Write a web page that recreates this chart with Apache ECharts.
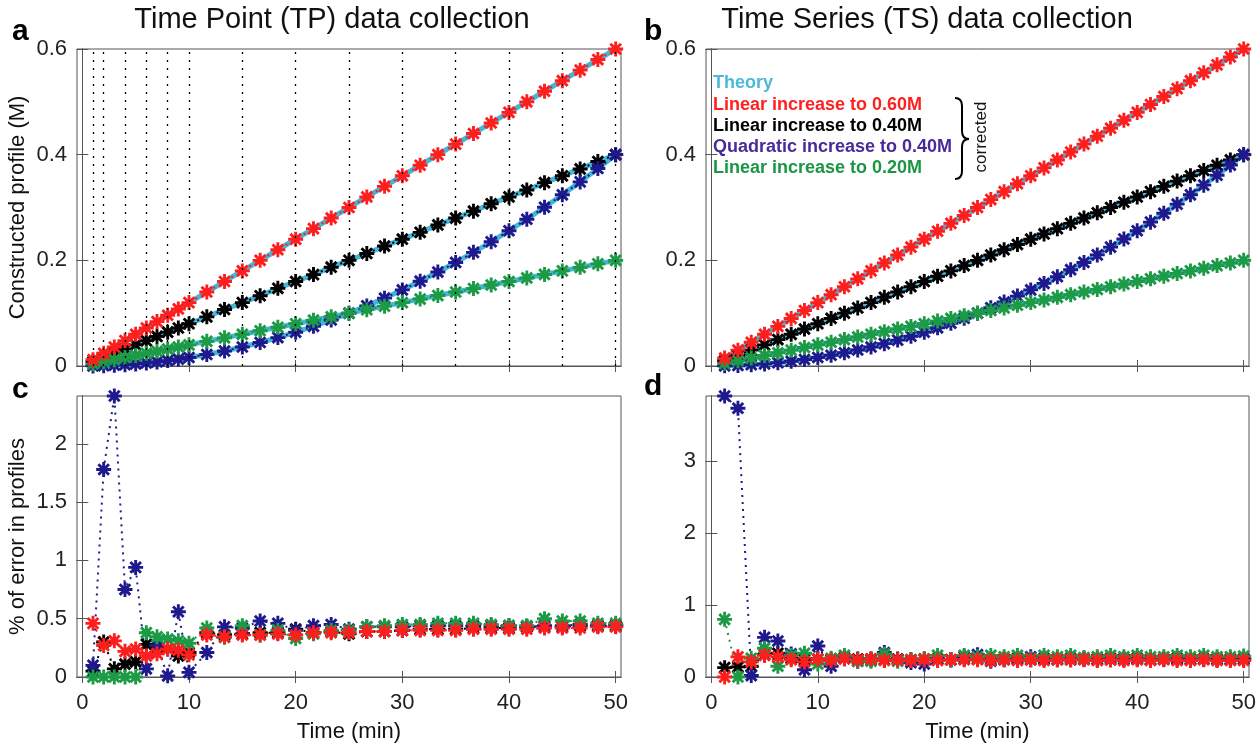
<!DOCTYPE html>
<html lang="en">
<head>
  <meta charset="UTF-8">
  <title>TP vs TS data collection</title>
  <style>
    html,
    body,
    #main {
      margin: 0;
      padding: 0;
      background: #fff;
    }

    #main {
      width: 1260px;
      height: 746px;
    }
  </style>
</head>
<body>
  <div id="main"></div>
  <script src="https://cdn.jsdelivr.net/npm/echarts@6/dist/echarts.min.js"></script>
  <script>
    // sampling times (min)
    const tpTime = [1, 2, 3, 4, 5, 6, 7, 8, 9, 10, 11.67, 13.33, 15, 16.67, 18.33, 20, 21.67, 23.33, 25, 26.67,
      28.33, 30, 31.67, 33.33, 35, 36.67, 38.33, 40, 41.67, 43.33, 45, 46.67, 48.33, 50];
    const tsTime = [1.25, 2.5, 3.75, 5, 6.25, 7.5, 8.75, 10, 11.25, 12.5, 13.75, 15, 16.25, 17.5, 18.75, 20,
      21.25, 22.5, 23.75, 25, 26.25, 27.5, 28.75, 30, 31.25, 32.5, 33.75, 35, 36.25, 37.5, 38.75, 40,
      41.25, 42.5, 43.75, 45, 46.25, 47.5, 48.75, 50];
    const tpLines = [1, 2, 4, 6, 8, 10, 15, 20, 25, 30, 35, 40, 45, 50];
    const xTicks = [0, 10, 20, 30, 40, 50];
    const yTicksProfile = [0, 0.2, 0.4, 0.6];
    const yTicksErrTP = [0, 0.5, 1, 1.5, 2];
    const yTicksErrTS = [0, 1, 2, 3];

    // a: constructed profiles, TP
    const tpRed = [0.012, 0.024, 0.036, 0.048, 0.060, 0.072, 0.084, 0.096, 0.108, 0.120, 0.140, 0.160, 0.180,
      0.200, 0.220, 0.240, 0.260, 0.280, 0.300, 0.320, 0.340, 0.360, 0.380, 0.400, 0.420, 0.440, 0.460,
      0.480, 0.500, 0.520, 0.540, 0.560, 0.580, 0.600];
    const tpBlack = [0.008, 0.016, 0.024, 0.032, 0.040, 0.048, 0.056, 0.064, 0.072, 0.080, 0.093, 0.107, 0.120,
      0.133, 0.147, 0.160, 0.173, 0.187, 0.200, 0.213, 0.227, 0.240, 0.253, 0.267, 0.280, 0.293, 0.307,
      0.320, 0.333, 0.347, 0.360, 0.373, 0.387, 0.400];
    const tpQuad = [0.0002, 0.0006, 0.0014, 0.0026, 0.004, 0.0058, 0.0078, 0.0102, 0.013, 0.016, 0.0218, 0.0284,
      0.036, 0.0444, 0.0538, 0.064, 0.0751, 0.0871, 0.100, 0.1138, 0.1284, 0.144, 0.1605, 0.1778, 0.196,
      0.2151, 0.2351, 0.256, 0.2778, 0.3004, 0.324, 0.3485, 0.3738, 0.400];
    const tpGreen = [0.004, 0.008, 0.012, 0.016, 0.020, 0.024, 0.028, 0.032, 0.036, 0.040, 0.0467, 0.0533, 0.060,
      0.0667, 0.0733, 0.080, 0.0867, 0.0933, 0.100, 0.1067, 0.1133, 0.120, 0.1267, 0.1333, 0.140, 0.1467,
      0.1533, 0.160, 0.1667, 0.1733, 0.180, 0.1867, 0.1933, 0.200];

    // b: constructed profiles, TS
    const tsRed = [0.015, 0.030, 0.045, 0.060, 0.075, 0.090, 0.105, 0.120, 0.135, 0.150, 0.165, 0.180, 0.195,
      0.210, 0.225, 0.240, 0.255, 0.270, 0.285, 0.300, 0.315, 0.330, 0.345, 0.360, 0.375, 0.390, 0.405,
      0.420, 0.435, 0.450, 0.465, 0.480, 0.495, 0.510, 0.525, 0.540, 0.555, 0.570, 0.585, 0.600];
    const tsBlack = [0.01, 0.02, 0.03, 0.04, 0.05, 0.06, 0.07, 0.08, 0.09, 0.10, 0.11, 0.12, 0.13, 0.14, 0.15,
      0.16, 0.17, 0.18, 0.19, 0.20, 0.21, 0.22, 0.23, 0.24, 0.25, 0.26, 0.27, 0.28, 0.29, 0.30, 0.31, 0.32,
      0.33, 0.34, 0.35, 0.36, 0.37, 0.38, 0.39, 0.40];
    const tsQuad = [0.0003, 0.001, 0.0023, 0.004, 0.0063, 0.009, 0.0123, 0.016, 0.0203, 0.025, 0.0303, 0.036,
      0.0423, 0.049, 0.0563, 0.064, 0.0723, 0.081, 0.0903, 0.100, 0.1103, 0.121, 0.1323, 0.144, 0.1563,
      0.169, 0.1823, 0.196, 0.2103, 0.225, 0.2403, 0.256, 0.2723, 0.289, 0.3063, 0.324, 0.3423, 0.361,
      0.3803, 0.400];
    const tsGreen = [0.005, 0.010, 0.015, 0.020, 0.025, 0.030, 0.035, 0.040, 0.045, 0.050, 0.055, 0.060, 0.065,
      0.070, 0.075, 0.080, 0.085, 0.090, 0.095, 0.100, 0.105, 0.110, 0.115, 0.120, 0.125, 0.130, 0.135,
      0.140, 0.145, 0.150, 0.155, 0.160, 0.165, 0.170, 0.175, 0.180, 0.185, 0.190, 0.195, 0.200];

    // c: % error, TP
    const errTpRed = [0.46, 0.27, 0.31, 0.22, 0.24, 0.18, 0.20, 0.24, 0.23, 0.19, 0.36, 0.345, 0.36, 0.36, 0.37,
      0.36, 0.38, 0.38, 0.38, 0.39, 0.39, 0.40, 0.40, 0.40, 0.40, 0.41, 0.41, 0.41, 0.41, 0.42, 0.42, 0.42,
      0.43, 0.43];
    const errTpBlack = [0.05, 0.30, 0.07, 0.11, 0.13, 0.28, 0.25, 0.24, 0.18, 0.21, 0.38, 0.36, 0.37, 0.38, 0.38,
      0.41, 0.38, 0.39, 0.37, 0.39, 0.39, 0.40, 0.41, 0.41, 0.41, 0.42, 0.42, 0.42, 0.43, 0.43, 0.43, 0.44,
      0.44, 0.44];
    const errTpQuad = [0.10, 1.78, 2.41, 0.75, 0.94, 0.07, 0.27, 0.01, 0.56, 0.04, 0.21, 0.43, 0.42, 0.48, 0.46,
      0.40, 0.44, 0.45, 0.41, 0.43, 0.43, 0.43, 0.44, 0.44, 0.44, 0.44, 0.44, 0.44, 0.43, 0.44, 0.44, 0.45,
      0.44, 0.44];
    const errTpGreen = [0, 0, 0, 0, 0, 0.38, 0.345, 0.325, 0.31, 0.29, 0.42, 0.34, 0.44, 0.36, 0.40, 0.33, 0.37,
      0.40, 0.40, 0.43, 0.44, 0.45, 0.45, 0.46, 0.46, 0.46, 0.45, 0.44, 0.44, 0.50, 0.48, 0.48, 0.46, 0.46];

    // d: % error, TS
    const errTsRed = [0.00, 0.28, 0.21, 0.30, 0.28, 0.24, 0.21, 0.25, 0.23, 0.25, 0.24, 0.25, 0.23, 0.24, 0.23,
      0.24, 0.23, 0.24, 0.24, 0.24, 0.23, 0.24, 0.23, 0.24, 0.23, 0.24, 0.24, 0.24, 0.23, 0.24, 0.23, 0.24,
      0.23, 0.24, 0.23, 0.23, 0.24, 0.23, 0.23, 0.23];
    const errTsBlack = [0.13, 0.14, 0.15, 0.31, 0.33, 0.26, 0.24, 0.25, 0.24, 0.26, 0.25, 0.25, 0.24, 0.25, 0.24,
      0.25, 0.25, 0.24, 0.25, 0.25, 0.24, 0.25, 0.25, 0.24, 0.25, 0.25, 0.24, 0.25, 0.25, 0.24, 0.25, 0.25,
      0.24, 0.25, 0.25, 0.24, 0.25, 0.25, 0.24, 0.25];
    const errTsQuad = [3.90, 3.73, 0.02, 0.55, 0.50, 0.32, 0.10, 0.43, 0.15, 0.27, 0.22, 0.24, 0.34, 0.24, 0.20,
      0.18, 0.25, 0.24, 0.28, 0.31, 0.22, 0.24, 0.26, 0.28, 0.26, 0.24, 0.26, 0.25, 0.24, 0.26, 0.25, 0.26,
      0.24, 0.25, 0.26, 0.25, 0.25, 0.24, 0.25, 0.25];
    const errTsGreen = [0.80, 0.00, 0.26, 0.40, 0.15, 0.30, 0.33, 0.18, 0.26, 0.30, 0.22, 0.22, 0.32, 0.22, 0.24,
      0.25, 0.30, 0.24, 0.30, 0.28, 0.30, 0.28, 0.30, 0.26, 0.30, 0.28, 0.30, 0.27, 0.28, 0.30, 0.28, 0.30,
      0.28, 0.28, 0.30, 0.28, 0.30, 0.28, 0.28, 0.29];

    const FONT = '"Liberation Sans", Arial, Helvetica, sans-serif';
    const C_THEORY = '#44B6D8';
    const C_RED = '#FF1E1E';
    const C_BLACK = '#000000';
    const C_QUAD = '#1E1A8E';
    const C_GREEN = '#1C9A46';
    const STAR = 'path://M10,0L10,20M0,10L20,10M2.93,2.93L17.07,17.07M2.93,17.07L17.07,2.93';

    const pair = (xs, ys) => xs.map((x, i) => [x, ys[i]]);

    const draw = () => {
      const myChart = echarts.init(document.getElementById('main'), null, { renderer: 'canvas' });

      const grids = [
        { left: 77, top: 49, width: 544, height: 317 },
        { left: 706, top: 49, width: 543, height: 317 },
        { left: 77, top: 396, width: 544, height: 281 },
        { left: 706, top: 396, width: 543, height: 281 },
      ].map(g => Object.assign({
        show: true,
        borderColor: '#555',
        borderWidth: 1,
        backgroundColor: '#fff',
        containLabel: false,
        outerBoundsMode: 'none'
      }, g));

      const axisLine = { show: true, lineStyle: { color: '#555', width: 1 } };
      const tick = (vals) => ({ show: true, inside: true, length: 6, customValues: vals, lineStyle: { color: '#555' } });

      const xAxes = [];
      const yAxes = [];
      const yRanges = [[0, 0.6, yTicksProfile], [0, 0.6, yTicksProfile], [0, 2.41, yTicksErrTP], [0, 3.9, yTicksErrTS]];
      for (let i = 0; i < 4; i++) {
        const bottomRow = i >= 2;
        xAxes.push({
          type: 'value', gridIndex: i, position: 'bottom', min: -0.5, max: 50.5,
          axisLine, axisTick: tick(xTicks), splitLine: { show: false },
          axisLabel: {
            show: bottomRow, customValues: xTicks, margin: 15,
            color: '#222', fontSize: 22, fontFamily: FONT
          },
          name: bottomRow ? 'Time (min)' : '', nameLocation: 'middle', nameGap: 44,
          nameTextStyle: { color: '#111', fontSize: 22, fontFamily: FONT }
        });
        xAxes.push({
          type: 'value', gridIndex: i, position: 'top', min: -0.5, max: 50.5,
          axisLine, axisTick: tick(xTicks), splitLine: { show: false }, axisLabel: { show: false }
        });
        const [lo, hi, vals] = yRanges[i];
        yAxes.push({
          type: 'value', gridIndex: i, position: 'left', min: lo, max: hi,
          axisLine, axisTick: tick(vals), splitLine: { show: false },
          axisLabel: {
            customValues: vals, margin: 10,
            color: '#222', fontSize: 22, fontFamily: FONT
          },
          name: i === 0 ? 'Constructed profile (M)' : (i === 2 ? '% of error in profiles' : ''),
          nameLocation: 'middle', nameGap: 48,
          nameTextStyle: { color: '#111', fontSize: 22, fontFamily: FONT }
        });
        yAxes.push({
          type: 'value', gridIndex: i, position: 'right', min: lo, max: hi,
          axisLine, axisTick: tick(vals), splitLine: { show: false }, axisLabel: { show: false }
        });
      }

      const theory = (g, xs, ys, extra) => Object.assign({
        type: 'line', xAxisIndex: g * 2, yAxisIndex: g * 2,
        data: pair(xs, ys), showSymbol: false, symbol: 'none',
        lineStyle: { color: C_THEORY, width: 5 }, silent: true, z: 2
      }, extra || {});

      const measured = (g, xs, ys, color) => ({
        type: 'line', xAxisIndex: g * 2, yAxisIndex: g * 2,
        data: pair(xs, ys), symbol: STAR, symbolSize: 15, showAllSymbol: true,
        lineStyle: { color: color, width: 2, type: [2, 5] },
        itemStyle: { color: color, borderColor: color, borderWidth: 2.9 },
        silent: true, z: 3
      });

      const tpMarks = {
        markLine: {
          silent: true, symbol: 'none', label: { show: false },
          lineStyle: { color: '#000', width: 1.3, type: [2, 6] },
          data: tpLines.map(t => ({ xAxis: t }))
        }
      };

      // drawing order: black, quadratic, green, red (last on top)
      const series = [
        theory(0, tpTime, tpGreen, tpMarks),
        theory(0, tpTime, tpQuad),
        theory(0, tpTime, tpBlack),
        theory(0, tpTime, tpRed),
        measured(0, tpTime, tpBlack, C_BLACK),
        measured(0, tpTime, tpQuad, C_QUAD),
        measured(0, tpTime, tpGreen, C_GREEN),
        measured(0, tpTime, tpRed, C_RED),

        theory(1, tsTime, tsGreen),
        theory(1, tsTime, tsQuad),
        theory(1, tsTime, tsBlack),
        theory(1, tsTime, tsRed),
        measured(1, tsTime, tsBlack, C_BLACK),
        measured(1, tsTime, tsQuad, C_QUAD),
        measured(1, tsTime, tsGreen, C_GREEN),
        measured(1, tsTime, tsRed, C_RED),

        measured(2, tpTime, errTpBlack, C_BLACK),
        measured(2, tpTime, errTpQuad, C_QUAD),
        measured(2, tpTime, errTpGreen, C_GREEN),
        measured(2, tpTime, errTpRed, C_RED),

        measured(3, tsTime, errTsBlack, C_BLACK),
        measured(3, tsTime, errTsQuad, C_QUAD),
        measured(3, tsTime, errTsGreen, C_GREEN),
        measured(3, tsTime, errTsRed, C_RED),
      ];

      const txt = (x, y, text, font, fill, extra) => Object.assign({
        type: 'text', x: x, y: y, silent: true, z: 10,
        style: {
          text: text, font: font, fill: fill,
          align: 'left', verticalAlign: 'middle', textAlign: 'left', textVerticalAlign: 'middle'
        }
      }, extra || {});

      const centered = (x, y, text, font, fill, extra) => {
        const el = txt(x, y, text, font, fill, extra);
        el.style.align = 'center';
        el.style.textAlign = 'center';
        return el;
      };

      // curly brace next to the "corrected" entries
      const braceStyle = { fill: 'none', stroke: '#000', lineWidth: 2 };
      const brace = [
        { type: 'bezierCurve', shape: { x1: 955, y1: 98, cpx1: 962, cpy1: 98, x2: 962, y2: 106 } },
        { type: 'line', shape: { x1: 962, y1: 106, x2: 962, y2: 131 } },
        { type: 'bezierCurve', shape: { x1: 962, y1: 131, cpx1: 962, cpy1: 139, x2: 969, y2: 139 } },
        { type: 'bezierCurve', shape: { x1: 969, y1: 139, cpx1: 962, cpy1: 139, x2: 962, y2: 147 } },
        { type: 'line', shape: { x1: 962, y1: 147, x2: 962, y2: 171 } },
        { type: 'bezierCurve', shape: { x1: 962, y1: 171, cpx1: 962, cpy1: 179, x2: 955, y2: 179 } },
      ].map(el => Object.assign(el, { silent: true, z: 10, style: braceStyle }));

      const legendFont = 'bold 18px ' + FONT;
      const graphic = [
        centered(332, 20, 'Time Point (TP) data collection', '29px ' + FONT, '#111'),
        centered(927, 20, 'Time Series (TS) data collection', '29px ' + FONT, '#111'),
        txt(12, 32, 'a', 'bold 30px ' + FONT, '#000'),
        txt(644, 32, 'b', 'bold 30px ' + FONT, '#000'),
        txt(12, 390, 'c', 'bold 30px ' + FONT, '#000'),
        txt(644, 387, 'd', 'bold 30px ' + FONT, '#000'),
        txt(713, 83, 'Theory', legendFont, '#4CB9D8'),
        txt(713, 105, 'Linear increase to 0.60M', legendFont, '#FF2020'),
        txt(713, 126, 'Linear increase to 0.40M', legendFont, '#000'),
        txt(713, 147, 'Quadratic increase to 0.40M', legendFont, '#4A2A98'),
        txt(713, 168, 'Linear increase to 0.20M', legendFont, '#1C9645'),
        centered(981, 137, 'corrected', '17px ' + FONT, '#111', { rotation: Math.PI / 2 }),
      ].concat(brace);

      const option = {
        animation: false,
        backgroundColor: '#fff',
        textStyle: { fontFamily: FONT },
        grid: grids,
        xAxis: xAxes,
        yAxis: yAxes,
        series: series,
        graphic: graphic
      };

      myChart.setOption(option);
    };

    draw();
  </script>
</body>
</html>
